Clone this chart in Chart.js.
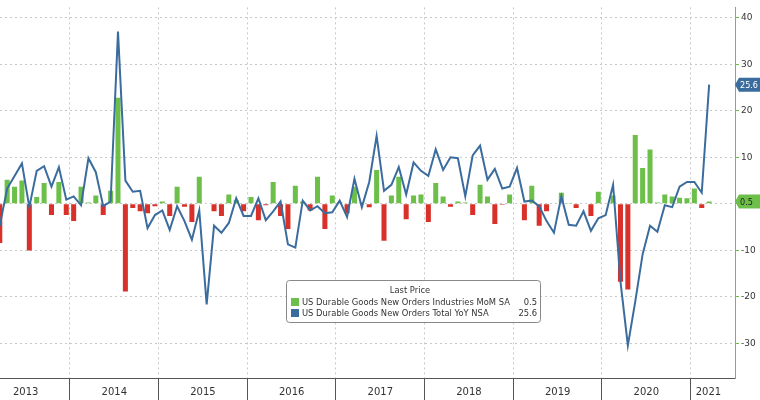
<!DOCTYPE html>
<html>
<head>
<meta charset="utf-8">
<script src="https://cdn.jsdelivr.net/npm/chart.js@4"></script>
<style>
  html, body { margin: 0; padding: 0; background: #fff; }
  #wrap { width: 760px; height: 400px; }
</style>
</head>
<body>
<div id="wrap"><canvas id="c"></canvas></div>
<script>
// first point is Mar 2013, one value per month
const startMonth = 2;
const momSA = [-8.4, 5.2, 3.7, 5, -10, 1.5, 4.5, -2.4, 4.7, -2.4, -3.7, 3.7, 0.3, 1.8, -2.4, 2.8,
  22.8, -18.8, -0.9, -1.6, -2, -0.5, 0.5, -2.6, 3.7, -0.6, -3.9, 5.8, -0.1, -1.6, -2.6, 2,
  0.8, -1.6, 1.5, -3.5, -0.3, 4.7, -2.6, -5.4, 3.9, 0.5, -1.4, 5.8, -5.4, 1.8, 0.4, -2,
  3.7, 0.3, -0.7, 7.3, -7.9, 1.8, 5.8, -3.3, 1.8, 2, -3.9, 4.5, 1.6, -0.6, 0.5, 0.3,
  -2.4, 4.1, 1.6, -4.3, -0.2, 2, 0, -3.5, 3.9, -4.7, -1.6, 0, 2.4, 0.2, -0.9, 0,
  -2.6, 2.6, 0, 1.8, -16.7, -18.4, 14.8, 7.7, 11.7, 0.3, 2, 1.6, 1.3, 1.2, 3.3, -0.9, 0.5];
const totalYoY = [-4.7, 3.3, 6, 8.7, -0.7, 7.1, 8.1, 3.7, 7.9, 0.9, 1.6, -0.3, 9.8, 6.8, -0.5, 0.5,
  37, 5, 2.6, 2.8, -5.2, -2.4, -1.4, -5.6, -0.5, -3.7, -7.7, -1.4, -21.6, -4.7, -6.2, -4.1,
  1.2, -2.6, -2.6, 1.2, -3.5, -1.6, 0.5, -8.7, -9.4, 0.7, -1.4, -0.5, -2, -1.8, 0.7, -2.8,
  5.4, -0.7, 4.7, 14.6, 2.8, 4.1, 7.9, 2, 8.9, 7.1, 6, 11.7, 7.3, 10, 9.8, 1.6,
  10.4, 12.5, 5.2, 7.5, 3.3, 3.7, 7.7, 0.5, 0.7, -0.5, -3.7, -6.2, 1.6, -4.5, -4.7, -1.6,
  -5.8, -3.1, -2.4, 4.1, -16.7, -30.4, -21, -10.8, -4.7, -6, -0.3, -0.7, 3.7, 4.7, 4.7, 2.4, 25.6];
const years = [2013, 2014, 2015, 2016, 2017, 2018, 2019, 2020, 2021];
const yTicks = [-30, -20, -10, 0, 10, 20, 30, 40];

const xOf = (i) => 2013 + (startMonth + i + 0.5) / 12;
const barPts = momSA.map((v, i) => ({ x: xOf(i), y: v }));
const linePts = totalYoY.map((v, i) => ({ x: xOf(i), y: v }));

const font = "'DejaVu Sans', sans-serif";
const cond = "'DejaVu Sans Condensed', 'Liberation Sans Narrow', sans-serif";
const xMin = 2013.211;
const xMax = 2021.5;

// value boxes on the right axis and the legend box
const extras = {
  id: "extras",
  afterDraw(chart) {
    const { ctx, scales } = chart;
    const y = scales.y;
    const tag = (v, txt, bg, fg) => {
      const py = y.getPixelForValue(v);
      ctx.save();
      ctx.fillStyle = bg;
      ctx.beginPath();
      ctx.moveTo(735, py);
      ctx.lineTo(739, py - 7);
      ctx.lineTo(760, py - 7);
      ctx.lineTo(760, py + 7);
      ctx.lineTo(739, py + 7);
      ctx.closePath();
      ctx.fill();
      ctx.fillStyle = fg;
      ctx.font = "9px " + cond;
      ctx.textBaseline = "middle";
      ctx.fillText(txt, 740, py + 1);
      ctx.restore();
    };
    tag(totalYoY[totalYoY.length - 1], "25.6", "#3b6c9e", "#fff");
    tag(momSA[momSA.length - 1], "0.5", "#6cc04a", "#222");

    ctx.save();
    ctx.fillStyle = "#fff";
    ctx.strokeStyle = "#888";
    ctx.lineWidth = 1;
    ctx.beginPath();
    ctx.roundRect(286.5, 280.5, 254, 42, 3);
    ctx.fill();
    ctx.stroke();
    ctx.font = "9.3px " + cond;
    ctx.fillStyle = "#333";
    ctx.textBaseline = "middle";
    ctx.textAlign = "center";
    ctx.fillText("Last Price", 410, 291);
    ctx.textAlign = "left";
    ctx.fillStyle = "#6cc04a";
    ctx.fillRect(291, 298, 8, 8);
    ctx.fillStyle = "#3b6c9e";
    ctx.fillRect(291, 309, 8, 8);
    ctx.fillStyle = "#333";
    ctx.fillText("US Durable Goods New Orders Industries MoM SA", 302, 302.5);
    ctx.fillText("US Durable Goods New Orders Total YoY NSA", 302, 313.5);
    ctx.textAlign = "right";
    ctx.fillText("0.5", 537, 302.5);
    ctx.fillText("25.6", 537, 313.5);
    ctx.restore();
  },
};

new Chart(document.getElementById("c"), {
  data: {
    datasets: [
      {
        type: "line",
        data: linePts,
        borderColor: "#3b6c9e",
        borderWidth: 2,
        pointRadius: 0,
        tension: 0,
        order: 1,
      },
      {
        type: "bar",
        data: barPts,
        backgroundColor: (c) => (c.raw && c.raw.y < 0 ? "#d9302a" : "#6cc04a"),
        barPercentage: 0.8,
        categoryPercentage: 0.85,
        order: 2,
      },
    ],
  },
  options: {
    responsive: true,
    maintainAspectRatio: false,
    animation: false,
    layout: { padding: 0 },
    plugins: { legend: { display: false }, tooltip: { enabled: false } },
    scales: {
      x: {
        type: "linear",
        offset: false,
        min: xMin,
        max: xMax,
        afterBuildTicks: (s) => {
          const t = [];
          years.forEach((yr) => {
            t.push({ value: yr });
            // label of the partial last year sits in its visible part
            t.push({ value: yr + 0.5 >= xMax ? yr + 0.2 : yr + 0.5 });
          });
          s.ticks = t.filter((k) => k.value >= s.min && k.value <= s.max);
        },
        afterFit: (s) => { s.height = 22; },
        grid: {
          offset: false,
          color: (c) => (c.tick && Number.isInteger(c.tick.value) ? "#c8c8c8" : "rgba(0,0,0,0)"),
          tickColor: (c) => (c.tick && Number.isInteger(c.tick.value) ? "#555" : "rgba(0,0,0,0)"),
          tickBorderDash: [],
          tickLength: 22,
        },
        border: { display: true, color: "#555", dash: [2, 3] },
        ticks: {
          autoSkip: false,
          maxRotation: 0,
          padding: -14,
          color: "#333",
          font: { family: font, size: 10 },
          callback: (v) => (Number.isInteger(v) ? "" : String(Math.floor(v))),
        },
      },
      y: {
        position: "right",
        min: -37.4,
        max: 42.2,
        afterBuildTicks: (s) => { s.ticks = yTicks.map((v) => ({ value: v })); },
        afterFit: (s) => { s.width = 25; },
        grid: { color: "#c8c8c8", tickLength: 4, tickColor: "#6cc04a", tickBorderDash: [] },
        border: { display: true, color: "#6cc04a", dash: [2, 3] },
        ticks: {
          padding: 2,
          color: "#333",
          font: { family: font, size: 9 },
        },
      },
    },
  },
  plugins: [extras],
});
</script>
</body>
</html>
